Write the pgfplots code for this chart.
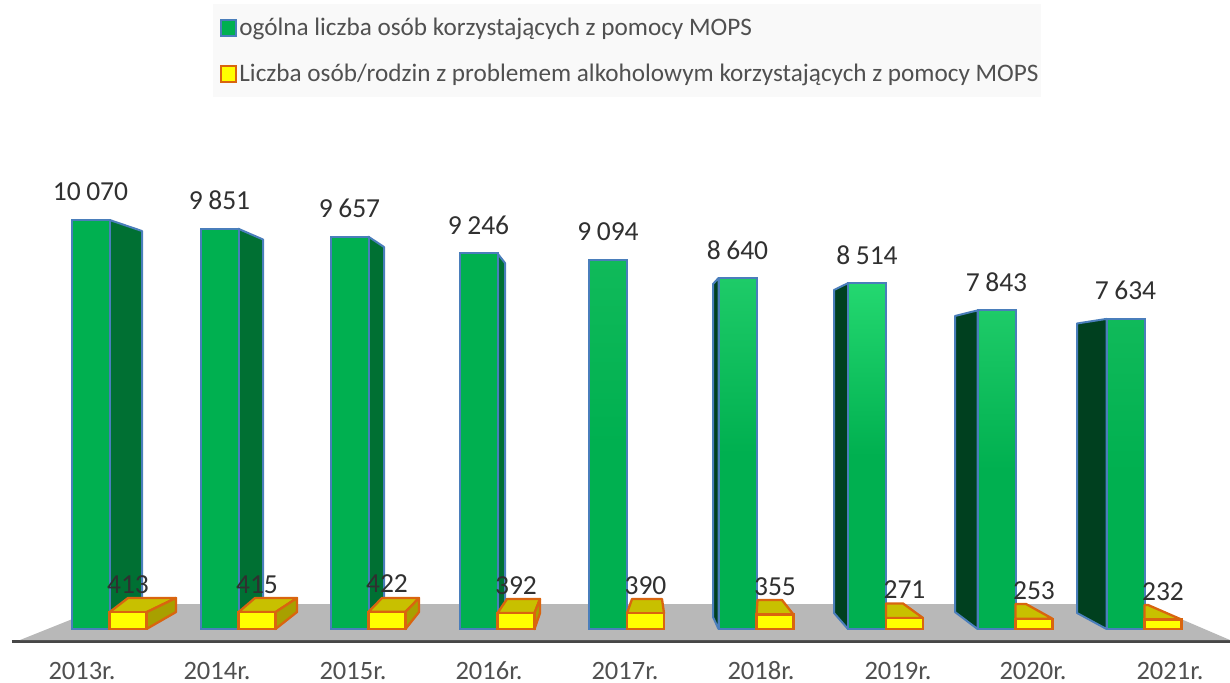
\documentclass[border=0pt]{standalone}
\usepackage{fontspec}
\setmainfont{Carlito}
\usepackage{pgfplots}
\pgfplotsset{compat=1.18}
\definecolor{grn}{HTML}{00B050}
\definecolor{gtopA}{HTML}{10BA5A}
\definecolor{gtopB}{HTML}{1ECB68}
\definecolor{gtopC}{HTML}{24D870}
\definecolor{edgeb}{HTML}{4A7EBB}
\definecolor{edgeo}{HTML}{D9650F}
\definecolor{yel}{HTML}{FFFF00}
\definecolor{ytop}{HTML}{C8C000}
\definecolor{yside}{HTML}{A8A000}
\definecolor{gsideA}{HTML}{007033}
\definecolor{gsideL}{HTML}{00401F}
\definecolor{plane}{HTML}{B8B8B8}
\definecolor{txt}{HTML}{303030}
\definecolor{txtg}{HTML}{505050}
\pgfplotsset{
  gface/.style={forget plot,fill=#1,draw=edgeb,line width=2pt,line join=round},
  yface/.style={forget plot,fill=#1,draw=edgeo,line width=2.3pt,line join=round},
  labs/.style={nodes near coords,
    every node near coord/.style={anchor=base,xshift=#1,yshift=19pt,font=\fontsize{27.5}{30}\selectfont,text=txt}},
  gbar/.style={forget plot,ybar,bar width=38pt,bar shift=-19pt,draw=edgeb,line width=2pt,labs=-19pt},
  ybarr/.style={forget plot,ybar,bar width=37pt,bar shift=18.5pt,draw=edgeo,line width=2.3pt,fill=yel,labs=18.5pt},
}
\begin{document}
\begin{tikzpicture}
\useasboundingbox (0,0) rectangle (1230pt,682pt);
\begin{axis}[
  at={(12pt,41pt)},anchor=south west,
  scale only axis,width=1218pt,height=641pt,
  xmin=12,xmax=1230,ymin=-295.4,ymax=15485,
  clip=false,
  axis y line=none,
  axis x line=bottom,
  x axis line style={-,draw=black!72,line width=3pt},
  xtick={82,217,353,489,625,761,898,1033,1170},
  xticklabels={2013r.,2014r.,2015r.,2016r.,2017r.,2018r.,2019r.,2020r.,2021r.},
  major tick length=0pt,
  x tick label style={font=\fontsize{26.5}{28}\selectfont,text=txtg,inner ysep=0pt,text height=17pt,text depth=0pt,yshift=-21pt},
  /pgf/number format/.cd,fixed,1000 sep={\hspace{.2em}},assume math mode=true,
  /pgfplots/.cd,
  legend cell align=left,
  legend style={at={(axis cs:213,15387)},anchor=north west,draw=none,fill=black!2.5,
    font=\fontsize{25.2}{28}\selectfont,text=txtg,inner xsep=0pt,inner ysep=12pt,row sep=23pt},
]
% legend
\addlegendimage{legend image code/.code={\path (0pt,0pt); \draw[draw=edgeb,fill=grn,line width=2pt] (8pt,-8pt) rectangle (23pt,8pt);}}
\addlegendentry{ogólna liczba osób korzystających z pomocy MOPS}
\addlegendimage{legend image code/.code={\path (0pt,0pt); \draw[draw=edgeo,fill=yel,line width=2pt] (8pt,-8pt) rectangle (23pt,8pt);}}
\addlegendentry{Liczba osób/rodzin z problemem alkoholowym korzystających z pomocy MOPS}
% floor
\addplot[forget plot,fill=plane,draw=none] coordinates {(20,-271) (110,615) (1146,615) (1230,-271)} --cycle;
% green side faces
\addplot[gface=gsideA] coordinates {(109.5,10070) (142,9798) (142,500) (109.5,300)} --cycle;
\addplot[gface=gsideA] coordinates {(238.5,9851) (263,9589) (263,500) (238.5,300)} --cycle;
\addplot[gface=gsideA] coordinates {(368.5,9657) (384,9404) (384,500) (368.5,300)} --cycle;
\addplot[gface=gsideA] coordinates {(497.5,9246) (505,9010) (505,500) (497.5,300)} --cycle;
\addplot[gface=gsideL] coordinates {(718.5,8640) (713,8493) (713,295) (718.5,0)} --cycle;
\addplot[gface=gsideL] coordinates {(848,8514) (834,8346) (834,394) (848,0)} --cycle;
\addplot[gface=gsideL] coordinates {(977.5,7843) (955,7706) (955,418) (977.5,0)} --cycle;
\addplot[gface=gsideL] coordinates {(1106.5,7634) (1077,7521) (1077,394) (1106.5,0)} --cycle;
% green fronts
\addplot[gbar,fill=grn] coordinates {(109.5,10070) (238.5,9851) (368.5,9657) (497.5,9246)};
\addplot[gbar,top color=gtopA,bottom color=grn,middle color=grn] coordinates {(627,9094)};
\addplot[gbar,top color=gtopB,bottom color=grn,middle color=grn] coordinates {(756.5,8640)};
\addplot[gbar,top color=gtopC,bottom color=grn,middle color=grn] coordinates {(886,8514)};
\addplot[gbar,top color=gtopB,bottom color=grn,middle color=grn] coordinates {(1015.5,7843)};
\addplot[gbar,top color=gtopA,bottom color=grn,middle color=grn] coordinates {(1144.5,7634)};
% yellow top and side faces
\addplot[yface=ytop] coordinates {(109.5,413) (128,763) (176,763) (146.5,413)} --cycle;
\addplot[yface=yside] coordinates {(146.5,413) (176,763) (176,418) (146.5,0)} --cycle;
\addplot[yface=ytop] coordinates {(238.5,415) (255,763) (297,763) (275.5,415)} --cycle;
\addplot[yface=yside] coordinates {(275.5,415) (297,763) (297,418) (275.5,0)} --cycle;
\addplot[yface=ytop] coordinates {(368.5,422) (382,763) (419,763) (405.5,422)} --cycle;
\addplot[yface=yside] coordinates {(405.5,422) (419,763) (419,418) (405.5,0)} --cycle;
\addplot[yface=ytop] coordinates {(497.5,392) (507,739) (540,739) (534.5,392)} --cycle;
\addplot[yface=yside] coordinates {(534.5,392) (540,739) (540,394) (534.5,0)} --cycle;
\addplot[yface=ytop] coordinates {(627,390) (632,739) (662,739) (664,390)} --cycle;
\addplot[yface=ytop] coordinates {(756.5,355) (757.5,714) (782,714) (793.5,355)} --cycle;
\addplot[yface=ytop] coordinates {(886,271) (886,628) (903,628) (923,271)} --cycle;
\addplot[yface=ytop] coordinates {(1015.5,253) (1015.5,615) (1026,615) (1052.5,253)} --cycle;
\addplot[yface=ytop] coordinates {(1144.5,232) (1144.5,591) (1148,591) (1181.5,232)} --cycle;
% yellow fronts
\addplot[ybarr] coordinates {(109.5,413) (238.5,415) (368.5,422) (497.5,392) (627,390) (756.5,355) (886,271) (1015.5,253) (1144.5,232)};
\end{axis}
\end{tikzpicture}
\end{document}
